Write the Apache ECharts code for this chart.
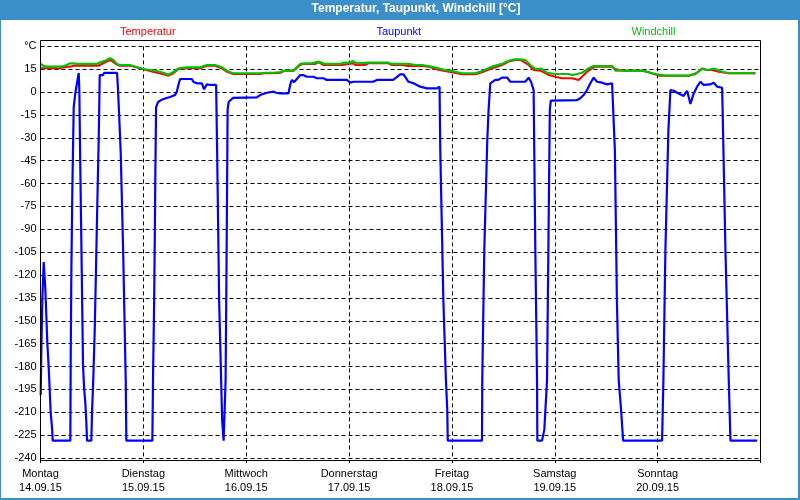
<!DOCTYPE html>
<html>
<head>
<meta charset="utf-8">
<script src="https://cdn.jsdelivr.net/npm/echarts@6/dist/echarts.min.js"></script>
<style>
html,body{margin:0;padding:0;background:#fff;}
#chart{width:800px;height:500px;}
</style>
</head>
<body>
<div id="chart"></div>
<script>
// ---- data (x = hours since Montag 14.09.15 00:00, y = °C) ----
const dayNames = ['Montag','Dienstag','Mittwoch','Donnerstag','Freitag','Samstag','Sonntag'];
const dayDates = ['14.09.15','15.09.15','16.09.15','17.09.15','18.09.15','19.09.15','20.09.15'];
const yTicks = [30,15,0,-15,-30,-45,-60,-75,-90,-105,-120,-135,-150,-165,-180,-195,-210,-225,-240];
const seriesNames = ['Temperatur','Taupunkt','Windchill'];

const temperatur = [
[0,15.6],[4.55,15.6],[6.12,16.7],[6.89,16.7],[7.66,17.3],[9.22,17.3],[13.5,17.3],[13.89,18.3],[15.06,19.6],[16.23,21.1],[16.86,20],[17.63,18.3],[18.56,17.3],[20.9,17.3],[22.46,16.3],[24.0,15],[25.57,13.9],[26.73,13],[28.67,11.7],[29.84,10.8],[31.01,12.4],[32.17,15.2],[34.14,15.6],[37.24,15.6],[38.8,17.3],[40.74,17.3],[42.31,15.6],[43.47,13.4],[45.01,11.9],[51.25,11.9],[52.02,12.4],[53.58,12.4],[55.92,12.6],[57.09,14.1],[59.02,14.1],[60.59,17.8],[61.29,18.5],[64.09,18.5],[64.86,19.6],[65.96,17.8],[70.33,17.8],[70.63,18.9],[72.96,18.9],[73.43,17.8],[75.76,17.8],[76.46,18.9],[81.13,18.9],[82.0,17.8],[84.33,17.8],[85.8,17.1],[89.0,17.1],[90.54,16.7],[92.11,15.2],[93.67,14.1],[96.01,13],[98.34,11.7],[101.45,11.7],[103.01,13],[105.35,15.6],[107.68,17.8],[109.22,20],[110.79,21.1],[111.96,21.1],[112.35,20],[113.89,17.8],[115.06,14.5],[116.63,14.1],[117.79,12.4],[118.56,11.2],[120.13,10.1],[121.69,9.1],[124.02,9.1],[125.57,8],[126.36,10.1],[127.53,13.4],[128.69,15.6],[129.47,16.7],[133.37,16.7],[134.14,15.2],[135.7,14.1],[140.37,14.1],[141.91,13],[144.24,10.8],[151.25,10.8],[152.82,11.9],[154.38,15.6],[155.55,14.5],[156.71,14.5],[158.25,13.4],[160.59,12.4],[166.82,12.4]
];

const taupunkt = [
[0.05,-198.7],[0.19,-170.5],[0.42,-136.4],[0.75,-111.4],[0.98,-111.4],[1.12,-128.5],[1.40,-149.5],[1.59,-164.6],[1.91,-180.3],[2.15,-195.4],[2.38,-210.5],[2.69,-220.3],[2.85,-228.6],
[6.96,-228.6],[7.05,-174.4],[7.19,-120],[7.42,-65.5],[7.75,-9.8],[8.13,-0.6],[8.52,6],[8.92,12.6],[9.06,1.4],[9.22,-36],[9.46,-83.8],[9.69,-131.8],[9.92,-179],[10.16,-193.4],[10.46,-203.9],[10.69,-216.4],[10.86,-228.6],
[11.86,-228.6],[12.02,-210.5],[12.33,-186.9],[12.65,-156],[12.96,-114.7],[13.26,-72.7],[13.59,-29.4],[13.82,11.2],[14.59,11.2],[14.83,12.6],[17.86,12.6],[18.09,1.4],[18.40,-18.3],[18.72,-39.9],[19.03,-75.4],[19.33,-110.1],[19.57,-144.9],[19.89,-188.8],[20.03,-228.6],
[26.10,-228.6],[26.27,-184.3],[26.50,-141],[26.66,-97],[26.80,-53],[26.97,-9.8],[27.43,-6.5],[28.13,-5.2],[29.07,-4.2],[30.24,-3.2],[31.40,-1.9],[31.80,0.3],[32.17,4.7],[32.57,8.6],[35.30,8.6],[35.68,6.8],[36.47,5.8],[37.64,5.8],[37.87,4.7],[38.17,1.9],[38.80,5.1],[39.58,4.7],[40.98,4.7],
[41.21,-38],[41.68,-136.4],[42.38,-215],[42.73,-228.6],[42.96,-228.6],[43.19,-188.8],[43.43,-103.6],[43.66,-11.7],[43.89,-6.5],[44.88,-3.8],
[45.01,-3.4],[50.48,-3.4],[51.25,-1.9],[52.81,-0.4],[54.35,0.3],[54.98,-0.4],[55.92,-0.8],[57.86,-0.8],[58.25,4.7],[58.65,8],[59.19,6.6],[59.82,8.6],[60.59,11.2],[61.29,11.2],[62.15,10.1],[63.69,10.1],[64.49,9.1],[66.03,9.1],[66.82,8],[71.49,8],[72.26,6.2],[73.03,6.8],[77.63,6.8],[78.50,8],[82.30,8],[83.94,11.7],[84.71,11.7],[85.87,6.8],[87.04,5.8],[88.61,3.6],[90.17,2.5],[92.51,2.5],[93.11,3.6],
[93.28,-38],[94.0,-136.4],[94.6,-188.8],[94.91,-208.5],[95.03,-228.6],[103.01,-228.6],[103.08,-188.8],[103.55,-103.6],[104.25,-31.4],[104.55,-11.7],[104.95,5.8],[106.12,8],[106.82,8],[107.68,9.5],[108.92,9.5],[109.62,6.8],[113.12,6.8],[113.89,9.5],[114.45,6.8],[115.06,1.4],
[115.46,-103.6],[115.86,-188.8],[115.93,-228.6],[117.02,-228.6],[117.56,-221.4],[118.19,-188.8],[118.50,-103.6],[118.84,-11.7],[119.07,-5.6],[125.19,-5.2],[125.96,-4],[126.73,-1.9],[127.53,1.4],[128.30,5.8],[129.07,9.5],[129.86,6.8],[131.03,6.2],[132.20,5.1],[133.37,5.8],[133.74,4.7],
[134.02,-38],[134.49,-136.4],[134.91,-188.8],[135.47,-208.5],[135.94,-228.6],[145.04,-228.6],[145.34,-188.8],[145.81,-103.6],[146.51,-24.8],[146.98,1.4],[147.75,0.9],[148.54,-0.4],[150.08,-2.5],[150.88,0.9],[151.65,-7.8],[152.42,-0.8],[153.21,3.6],[153.98,6.8],[154.75,4.7],[156.31,5.1],[157.08,6.2],[157.88,3.6],[159.05,2.9],
[159.35,-38],[159.82,-103.6],[160.59,-188.8],[160.99,-228.6],[167.22,-228.6]
];

const windchill = [
[0,18.5],[0.65,17.3],[1.45,16.7],[4.55,16.7],[5.32,17.1],[6.12,17.8],[6.89,18.9],[7.66,18.9],[8.45,18.5],[9.22,18.5],[13.12,18.5],[13.89,19.6],[15.06,20.6],[16.23,22.2],[17.0,21.1],[17.79,18.5],[18.56,17.8],[20.9,17.8],[22.46,16.3],[24.0,15.2],[25.57,14.5],[27.13,13.9],[28.67,12.7],[29.84,11.4],[31.01,13.2],[32.17,15.6],[34.14,16.3],[37.24,16.3],[38.8,17.8],[40.74,17.8],[42.31,16.3],[43.85,13.4],[45.01,12.4],[51.25,12.4],[52.81,12.7],[54.35,12.7],[55.92,13.2],[57.09,14.1],[59.02,14.1],[60.59,18.5],[61.76,18.9],[63.32,18.9],[64.86,20],[66.43,18.5],[69.93,18.5],[70.63,19.3],[72.26,19.3],[72.8,20.4],[73.83,18.9],[76.46,19.3],[81.13,19.3],[82.0,18.5],[85.87,18.5],[87.44,17.8],[89.0,17.8],[90.54,17.1],[92.88,15.6],[94.44,14.5],[96.78,13.4],[98.34,12.4],[101.45,12.4],[103.01,13.9],[105.35,16.7],[107.68,18.5],[109.22,20.6],[110.79,21.5],[111.96,21.5],[113.12,21.1],[114.29,17.8],[115.46,15.2],[117.02,15.2],[118.19,12.7],[120.13,11.9],[123.23,11.9],[124.02,11.2],[125.19,11.9],[126.36,12.7],[127.9,15.6],[129.07,17.1],[133.37,17.1],[134.14,14.1],[140.37,14.1],[143.47,11.9],[145.81,10.8],[151.25,10.8],[153.21,12.7],[154.38,15.2],[155.55,14.5],[156.71,15.2],[157.48,15.2],[159.05,13.4],[160.59,12.4],[166.82,12.4]
];

// ---- chart ----
const FONT = 'Liberation Sans, Arial, sans-serif';
const colors = ['#ff0000', '#0000ff', '#00c000'];
const chart = echarts.init(document.getElementById('chart'), null, {renderer: 'canvas'});

const dashed = {color: '#000', width: 1, type: [4, 3]};

chart.setOption({
  animation: false,
  backgroundColor: '#ffffff',
  title: {
    text: 'Temperatur, Taupunkt, Windchill [°C]',
    left: 416, top: 3, textAlign: 'center', padding: 0,
    textStyle: {color: '#ffffff', fontSize: 12, fontWeight: 'bold', fontFamily: FONT}
  },
  legend: [
    {data: [seriesNames[0]], left: 115, top: 25, padding: 0, icon: 'none', itemWidth: 0, itemHeight: 14, selectedMode: false,
     textStyle: {color: colors[0], fontSize: 11, fontFamily: FONT}},
    {data: [seriesNames[1]], left: 371.5, top: 25, padding: 0, icon: 'none', itemWidth: 0, itemHeight: 14, selectedMode: false,
     textStyle: {color: colors[1], fontSize: 11, fontFamily: FONT}},
    {data: [seriesNames[2]], left: 626.5, top: 25, padding: 0, icon: 'none', itemWidth: 0, itemHeight: 14, selectedMode: false,
     textStyle: {color: colors[2], fontSize: 11, fontFamily: FONT}}
  ],
  grid: {left: 40.5, right: 39.5, top: 46.4, bottom: 42, containLabel: false},
  xAxis: {
    type: 'value', min: 0, max: 168, interval: 24, offset: 2,
    axisLine: {show: true, onZero: false, lineStyle: {color: '#000', width: 1}},
    axisTick: {show: true, length: 3, lineStyle: {color: '#000'}},
    axisLabel: {
      margin: 7, color: '#000', fontSize: 11, fontFamily: FONT, lineHeight: 14,
      formatter: function (v) {
        const i = Math.round(v / 24);
        return i < dayNames.length ? dayNames[i] + '\n' + dayDates[i] : '';
      }
    },
    splitLine: {show: true, lineStyle: dashed}
  },
  yAxis: {
    type: 'value', min: -240, max: 30, interval: 15,
    axisLine: {show: true, onZero: false, lineStyle: {color: '#000', width: 1}},
    axisTick: {show: false},
    axisLabel: {
      margin: 4, color: '#000', fontSize: 11, fontFamily: FONT,
      formatter: function (v) { return v === yTicks[0] ? '°C' : String(v); }
    },
    splitLine: {show: true, lineStyle: dashed}
  },
  graphic: [
    {type: 'rect', silent: true, z: -10, shape: {x: 0, y: 0, width: 800, height: 20}, style: {fill: '#3c8ec8'}},
    {type: 'rect', silent: true, z: 100, shape: {x: 0, y: 20, width: 1, height: 480}, style: {fill: '#3c8ec8'}},
    {type: 'rect', silent: true, z: 100, shape: {x: 798, y: 20, width: 2, height: 480}, style: {fill: '#3c8ec8'}},
    {type: 'rect', silent: true, z: 100, shape: {x: 0, y: 498, width: 800, height: 2}, style: {fill: '#3c8ec8'}},
    {type: 'rect', silent: true, z: 100, shape: {x: 40.5, y: 40.5, width: 720, height: 420}, style: {fill: 'none', stroke: '#000', lineWidth: 1}}
  ],
  series: [
    {name: seriesNames[0], type: 'line', data: temperatur, showSymbol: false, symbol: 'none',
     lineStyle: {color: colors[0], width: 2}, itemStyle: {color: colors[0]}, z: 3},
    {name: seriesNames[1], type: 'line', data: taupunkt, showSymbol: false, symbol: 'none',
     lineStyle: {color: colors[1], width: 2.2}, itemStyle: {color: colors[1]}, z: 3},
    {name: seriesNames[2], type: 'line', data: windchill, showSymbol: false, symbol: 'none',
     lineStyle: {color: colors[2], width: 2.2}, itemStyle: {color: colors[2]}, z: 4}
  ]
});
</script>
</body>
</html>
